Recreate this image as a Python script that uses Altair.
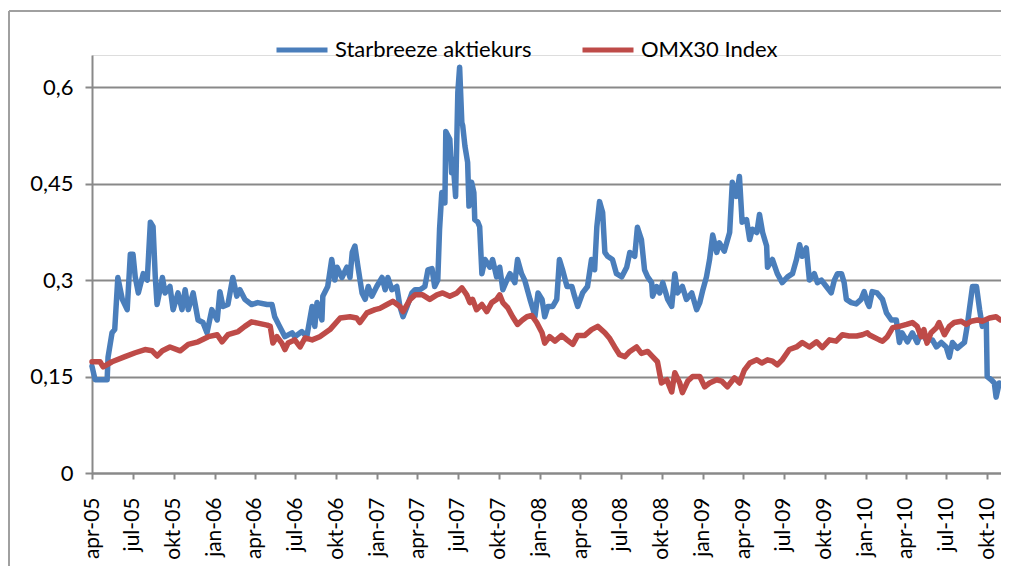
import altair as alt
import pandas as pd

# ---------------- data ----------------
series_names = ["Starbreeze aktiekurs", "OMX30 Index"]
series_colors = ["#4A7EBB", "#BE4B48"]

sb_dates = [
    "2005-04-01","2005-04-08","2005-05-05","2005-05-07","2005-05-16","2005-05-22","2005-05-29","2005-06-08",
    "2005-06-19","2005-06-26","2005-07-02","2005-07-07","2005-07-14","2005-07-25","2005-08-03","2005-08-10",
    "2005-08-16","2005-08-21","2005-08-25","2005-09-06","2005-09-12","2005-09-23","2005-09-30","2005-10-11",
    "2005-10-20","2005-10-27","2005-11-03","2005-11-14","2005-11-25","2005-12-06","2005-12-15","2005-12-26",
    "2006-01-07","2006-01-13","2006-01-20","2006-01-31","2006-02-11","2006-02-20","2006-02-27","2006-03-10",
    "2006-03-25","2006-04-08","2006-04-29","2006-05-10","2006-05-16","2006-05-27","2006-06-08","2006-06-24",
    "2006-06-30","2006-07-16","2006-07-27","2006-08-08","2006-08-14","2006-08-19","2006-08-30","2006-09-01",
    "2006-09-12","2006-09-21","2006-09-28","2006-10-03","2006-10-14","2006-10-25","2006-11-01","2006-11-06",
    "2006-11-12","2006-11-19","2006-11-28","2006-12-05","2006-12-12","2006-12-20","2006-12-31","2007-01-12",
    "2007-01-19","2007-01-25","2007-02-03","2007-02-14","2007-02-21","2007-02-28","2007-03-09","2007-03-20",
    "2007-03-27","2007-04-07","2007-04-18","2007-04-25","2007-05-04","2007-05-10","2007-05-17","2007-05-21",
    "2007-05-26","2007-06-02","2007-06-04","2007-06-13","2007-06-17","2007-06-20","2007-06-26","2007-07-01",
    "2007-07-05","2007-07-10","2007-07-12","2007-07-17","2007-07-23","2007-07-26","2007-08-01","2007-08-06",
    "2007-08-08","2007-08-15","2007-08-19","2007-08-24","2007-08-31","2007-09-11","2007-09-17","2007-09-26",
    "2007-10-03","2007-10-10","2007-10-19","2007-10-26","2007-11-06","2007-11-12","2007-11-21","2007-11-28",
    "2007-12-10","2007-12-17","2007-12-21","2007-12-28","2008-01-06","2008-01-12","2008-01-19","2008-01-30",
    "2008-02-08","2008-02-14","2008-02-21","2008-03-02","2008-03-13","2008-03-19","2008-03-26","2008-04-06",
    "2008-04-17","2008-04-26","2008-05-03","2008-05-08","2008-05-14","2008-05-21","2008-05-26","2008-06-01",
    "2008-06-12","2008-06-21","2008-07-03","2008-07-14","2008-07-21","2008-08-01","2008-08-07","2008-08-16",
    "2008-08-23","2008-08-30","2008-09-08","2008-09-10","2008-09-19","2008-09-26","2008-10-03","2008-10-14",
    "2008-10-23","2008-10-30","2008-11-05","2008-11-16","2008-11-25","2008-12-07","2008-12-18","2008-12-25",
    "2009-01-01","2009-01-09","2009-01-16","2009-01-23","2009-02-01","2009-02-07","2009-02-18","2009-03-02",
    "2009-03-08","2009-03-17","2009-03-24","2009-03-30","2009-04-09","2009-04-16","2009-04-22","2009-05-02",
    "2009-05-08","2009-05-15","2009-05-24","2009-05-26","2009-06-06","2009-06-17","2009-06-28","2009-07-10",
    "2009-07-21","2009-07-30","2009-08-06","2009-08-12","2009-08-21","2009-08-28","2009-09-08","2009-09-15",
    "2009-09-24","2009-10-05","2009-10-16","2009-10-23","2009-10-30","2009-11-08","2009-11-14","2009-11-19",
    "2009-11-30","2009-12-11","2009-12-22","2009-12-29","2010-01-05","2010-01-09","2010-01-16","2010-01-27",
    "2010-02-08","2010-02-17","2010-02-28","2010-03-11","2010-03-18","2010-03-24","2010-04-05","2010-04-16",
    "2010-04-27","2010-05-06","2010-05-17","2010-05-31","2010-06-09","2010-06-20","2010-07-01","2010-07-08",
    "2010-07-15","2010-07-26","2010-08-11","2010-08-17","2010-08-22","2010-08-29","2010-09-07","2010-09-14",
    "2010-09-20","2010-09-29","2010-10-01","2010-10-10","2010-10-17","2010-10-21","2010-10-28",
]
sb_values = [
    0.166,0.145,0.145,0.18,0.218,0.223,0.304,0.27,
    0.254,0.34,0.34,0.305,0.28,0.31,0.30,0.39,
    0.383,0.305,0.262,0.304,0.28,0.29,0.254,0.28,
    0.254,0.285,0.254,0.28,0.238,0.234,0.218,0.254,
    0.238,0.282,0.259,0.262,0.304,0.275,0.285,0.27,
    0.262,0.265,0.262,0.262,0.243,0.228,0.212,0.218,
    0.212,0.22,0.212,0.259,0.228,0.265,0.238,0.275,
    0.29,0.332,0.30,0.32,0.304,0.32,0.304,0.343,
    0.353,0.32,0.28,0.27,0.29,0.275,0.29,0.304,
    0.285,0.304,0.285,0.29,0.259,0.243,0.259,0.28,
    0.285,0.285,0.29,0.316,0.318,0.29,0.30,0.379,
    0.436,0.42,0.531,0.519,0.467,0.488,0.43,0.592,
    0.631,0.545,0.54,0.508,0.483,0.415,0.452,0.436,
    0.394,0.39,0.383,0.31,0.332,0.32,0.332,0.305,
    0.32,0.285,0.30,0.31,0.296,0.332,0.31,0.30,
    0.27,0.254,0.243,0.28,0.27,0.243,0.259,0.259,
    0.27,0.332,0.316,0.29,0.29,0.275,0.259,0.28,
    0.29,0.332,0.316,0.383,0.422,0.405,0.343,0.337,
    0.332,0.31,0.305,0.32,0.343,0.337,0.382,0.363,
    0.316,0.305,0.296,0.275,0.29,0.28,0.296,0.27,
    0.259,0.31,0.28,0.29,0.27,0.28,0.254,0.265,
    0.285,0.305,0.332,0.37,0.343,0.358,0.345,0.374,
    0.452,0.43,0.461,0.39,0.394,0.363,0.379,0.374,
    0.402,0.374,0.353,0.32,0.332,0.31,0.296,0.305,
    0.31,0.332,0.355,0.337,0.35,0.30,0.31,0.296,
    0.30,0.29,0.28,0.30,0.31,0.31,0.296,0.27,
    0.265,0.263,0.27,0.282,0.265,0.259,0.282,0.28,
    0.27,0.249,0.238,0.238,0.203,0.218,0.204,0.218,
    0.203,0.22,0.207,0.207,0.196,0.203,0.196,0.18,
    0.203,0.194,0.203,0.228,0.254,0.29,0.29,0.254,
    0.228,0.234,0.15,0.145,0.14,0.118,0.14,
]

omx_dates = [
    "2005-04-01","2005-04-19","2005-04-26","2005-05-16","2005-06-14","2005-07-07","2005-07-29","2005-08-14",
    "2005-08-25","2005-09-06","2005-09-23","2005-10-16","2005-11-03","2005-11-25","2005-12-18","2006-01-07",
    "2006-01-18","2006-01-31","2006-02-23","2006-03-10","2006-03-25","2006-04-08","2006-04-29","2006-05-06",
    "2006-05-12","2006-05-21","2006-06-01","2006-06-08","2006-06-15","2006-06-30","2006-07-12","2006-07-23",
    "2006-08-08","2006-08-25","2006-09-17","2006-10-10","2006-11-01","2006-11-16","2006-11-23","2006-12-09",
    "2006-12-27","2007-01-07","2007-01-23","2007-02-05","2007-02-21","2007-02-28","2007-03-16","2007-03-27",
    "2007-04-13","2007-04-29","2007-05-15","2007-05-28","2007-06-13","2007-06-29","2007-07-10","2007-07-21",
    "2007-07-28","2007-08-03","2007-08-12","2007-08-24","2007-09-04","2007-09-15","2007-09-26","2007-10-03",
    "2007-10-10","2007-10-21","2007-11-01","2007-11-12","2007-11-23","2007-12-03","2007-12-14","2007-12-25",
    "2008-01-06","2008-01-12","2008-01-23","2008-02-04","2008-02-19","2008-03-02","2008-03-15","2008-03-26",
    "2008-04-11","2008-04-26","2008-05-10","2008-05-26","2008-06-06","2008-06-17","2008-06-28","2008-07-10",
    "2008-07-21","2008-08-05","2008-08-16","2008-08-30","2008-09-10","2008-09-21","2008-09-30","2008-10-12",
    "2008-10-23","2008-10-30","2008-11-10","2008-11-16","2008-11-28","2008-12-09","2008-12-25","2009-01-05",
    "2009-01-16","2009-02-01","2009-02-12","2009-02-25","2009-03-13","2009-03-24","2009-04-04","2009-04-16",
    "2009-05-02","2009-05-13","2009-05-26","2009-06-06","2009-06-17","2009-06-28","2009-07-14","2009-07-30",
    "2009-08-12","2009-08-28","2009-09-13","2009-09-26","2009-10-12","2009-10-27","2009-11-10","2009-11-25",
    "2009-12-12","2009-12-25","2010-01-05","2010-01-09","2010-02-01","2010-02-08","2010-02-19","2010-03-03",
    "2010-03-18","2010-04-03","2010-04-16","2010-04-27","2010-05-06","2010-05-12","2010-05-19","2010-05-28",
    "2010-06-09","2010-06-15","2010-06-27","2010-07-08","2010-07-19","2010-08-04","2010-08-15","2010-08-26",
    "2010-09-09","2010-09-20","2010-10-06","2010-10-21","2010-10-31",
]
omx_values = [
    0.173,0.173,0.165,0.173,0.181,0.187,0.192,0.19,
    0.182,0.19,0.196,0.19,0.20,0.204,0.212,0.215,
    0.204,0.215,0.22,0.228,0.235,0.233,0.23,0.228,
    0.202,0.212,0.202,0.192,0.202,0.207,0.196,0.21,
    0.207,0.212,0.223,0.241,0.243,0.241,0.234,0.249,
    0.254,0.256,0.262,0.267,0.259,0.251,0.27,0.277,
    0.277,0.27,0.277,0.28,0.275,0.28,0.288,0.277,
    0.265,0.27,0.254,0.262,0.251,0.265,0.27,0.277,
    0.265,0.257,0.243,0.231,0.238,0.243,0.245,0.234,
    0.218,0.202,0.212,0.205,0.214,0.207,0.20,0.214,
    0.214,0.223,0.228,0.218,0.209,0.196,0.184,0.181,
    0.189,0.196,0.186,0.189,0.181,0.173,0.14,0.145,
    0.126,0.156,0.14,0.125,0.143,0.15,0.15,0.134,
    0.14,0.145,0.143,0.134,0.148,0.14,0.16,0.171,
    0.176,0.171,0.176,0.174,0.168,0.176,0.192,0.196,
    0.203,0.196,0.204,0.195,0.207,0.205,0.215,0.213,
    0.213,0.215,0.218,0.215,0.207,0.205,0.212,0.226,
    0.228,0.231,0.234,0.228,0.212,0.223,0.202,0.218,
    0.226,0.234,0.215,0.228,0.234,0.236,0.231,0.236,
    0.238,0.236,0.241,0.243,0.238,
]

y_ticks = [0, 0.15, 0.3, 0.45, 0.6]
x_tick_months = [
    (2005, 4), (2005, 7), (2005, 10), (2006, 1), (2006, 4), (2006, 7), (2006, 10),
    (2007, 1), (2007, 4), (2007, 7), (2007, 10), (2008, 1), (2008, 4), (2008, 7), (2008, 10),
    (2009, 1), (2009, 4), (2009, 7), (2009, 10), (2010, 1), (2010, 4), (2010, 7), (2010, 10),
]
month_abbr = ["jan", "feb", "mar", "apr", "maj", "jun", "jul", "aug", "sep", "okt", "nov", "dec"]

# ---------------- build table ----------------
df = pd.concat([
    pd.DataFrame({"date": [d + "T00:00:00" for d in sb_dates], "value": sb_values, "series": series_names[0]}),
    pd.DataFrame({"date": [d + "T00:00:00" for d in omx_dates], "value": omx_values, "series": series_names[1]}),
], ignore_index=True)

FONT = "Lato"
GRAY = "#898989"

month_js = "[" + ",".join("'" + m + "'" for m in month_abbr) + "]"
x_label_expr = month_js + "[month(datum.value)] + '-' + timeFormat(datum.value, '%y')"

x_axis = alt.Axis(
    values=[alt.DateTime(year=y, month=m, date=1) for (y, m) in x_tick_months],
    labelExpr=x_label_expr,
    labelAngle=270, labelAlign="right", labelBaseline="middle",
    labelFont=FONT, labelFontSize=21, labelColor="black",
    labelPadding=18, labelFlush=False, labelOverlap=False,
    tickSize=6, tickColor=GRAY, tickWidth=2,
    domainColor=GRAY, domainWidth=2, grid=False, title=None,
)
y_axis = alt.Axis(
    values=y_ticks,
    labelExpr="replace(toString(datum.value), '.', ',')",
    labelFont=FONT, labelFontSize=22, labelColor="black", labelPadding=12,
    tickSize=7, tickColor=GRAY, tickWidth=2,
    domainColor=GRAY, domainWidth=2,
    grid=True, gridColor=GRAY, gridWidth=2, title=None,
)

lines = alt.Chart(df).mark_line(strokeWidth=5.5, strokeJoin="round", strokeCap="round").encode(
    x=alt.X("date:T", scale=alt.Scale(domain=[alt.DateTime(year=2005, month=4, date=1),
                                               alt.DateTime(year=2010, month=11, date=1)]),
            axis=x_axis),
    y=alt.Y("value:Q", scale=alt.Scale(domain=[0, 0.65], nice=False, zero=True), axis=y_axis),
    color=alt.Color("series:N",
                    scale=alt.Scale(domain=series_names, range=series_colors),
                    legend=alt.Legend(orient="none", legendX=182, legendY=-33, direction="horizontal",
                                      title=None, symbolType="stroke", symbolSize=2601,
                                      symbolStrokeWidth=5, labelFont=FONT, labelFontSize=22,
                                      labelColor="black", labelOffset=5, columnPadding=40,
                                      padding=0, labelLimit=0)),
)

frame_df = pd.DataFrame({"k": [0]})
frame_top = alt.Chart(frame_df).mark_rule(color="#a0a0a0", strokeWidth=2).encode(
    x=alt.value(-83), x2=alt.value(940), y=alt.value(-44))
frame_left = alt.Chart(frame_df).mark_rule(color="#a0a0a0", strokeWidth=2).encode(
    x=alt.value(-83), y=alt.value(-44), y2=alt.value(600))

chart = alt.layer(frame_top, frame_left, lines).properties(
    width=909, height=418,
    padding={"left": 84, "top": 47, "right": 0, "bottom": 93},
    autosize=alt.AutoSizeParams(type="none"),
).configure_view(stroke=None).configure(font=FONT)

chart.save("out.html", embed_options={"renderer": "svg", "actions": False})
